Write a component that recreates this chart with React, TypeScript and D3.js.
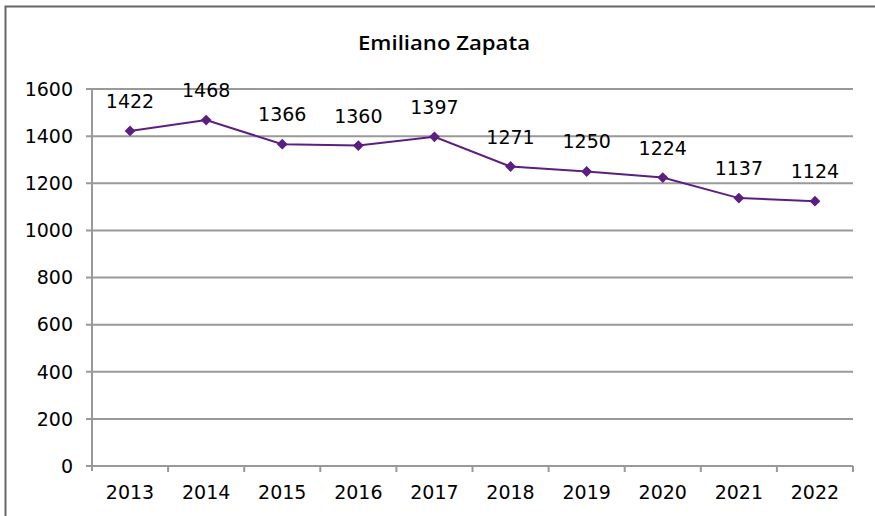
import React from "react";
import * as d3 from "d3";

const years = ["2013", "2014", "2015", "2016", "2017", "2018", "2019", "2020", "2021", "2022"];
const values = [1422, 1468, 1366, 1360, 1397, 1271, 1250, 1224, 1137, 1124];
const yTicks = [0, 200, 400, 600, 800, 1000, 1200, 1400, 1600];
const title = "Emiliano Zapata";

const W = 875;
const H = 516;
const left = 92;
const right = 853;
const top = 89;
const bottom = 466;

export default function App() {
  const x = d3.scaleBand<string>().domain(years).range([left, right]);
  const y = d3.scaleLinear().domain([0, 1600]).range([bottom, top]);
  const line = d3
    .line<number>()
    .x((_, i) => (x(years[i]) as number) + x.bandwidth() / 2)
    .y((d) => y(d));
  const font = "'DejaVu Sans', 'Liberation Sans', Arial, sans-serif";
  const grid = "#999999";
  const purple = "#5c1f80";
  const diamond = d3.symbol().type(d3.symbolDiamond2).size(75)() as string;

  return (
    <svg
      width={W}
      height={H}
      style={{ position: "absolute", left: 0, top: 0, display: "block" }}
      fontFamily={font}
    >
      <rect x={0} y={0} width={W} height={H} fill="#ffffff" />
      <rect x={5.5} y={6.5} width={W + 20} height={H + 20} fill="none" stroke="#666666" strokeWidth={2} />
      <text
        x={444}
        y={50}
        textAnchor="middle"
        fontSize={20.5}
        fontWeight={600}
        fontFamily="'Open Sans', 'DejaVu Sans', sans-serif"
        fill="#000"
        textLength={172}
        lengthAdjust="spacingAndGlyphs"
      >
        {title}
      </text>
      {yTicks.map((t) => (
        <g key={t}>
          <line x1={86} x2={right} y1={y(t)} y2={y(t)} stroke={grid} strokeWidth={2} />
          <text x={73} y={y(t)} dy="0.36em" textAnchor="end" fontSize={19} fill="#000">
            {t}
          </text>
        </g>
      ))}
      <line x1={left} x2={left} y1={top} y2={bottom + 5} stroke={grid} strokeWidth={2} />
      {years.map((yr) => (
        <line
          key={"t" + yr}
          x1={(x(yr) as number) + x.bandwidth()}
          x2={(x(yr) as number) + x.bandwidth()}
          y1={bottom}
          y2={bottom + 6}
          stroke={grid}
          strokeWidth={2}
        />
      ))}
      {years.map((yr) => (
        <text
          key={"l" + yr}
          x={(x(yr) as number) + x.bandwidth() / 2}
          y={499}
          textAnchor="middle"
          fontSize={19}
          fill="#000"
        >
          {yr}
        </text>
      ))}
      <path d={line(values) as string} fill="none" stroke={purple} strokeWidth={2} />
      {values.map((v, i) => {
        const cx = (x(years[i]) as number) + x.bandwidth() / 2;
        return (
          <g key={"p" + i}>
            <path d={diamond} transform={`translate(${cx},${y(v)})`} fill={purple} />
            <text x={cx} y={y(v) - 23} textAnchor="middle" fontSize={19} fill="#000">
              {v}
            </text>
          </g>
        );
      })}
    </svg>
  );
}
